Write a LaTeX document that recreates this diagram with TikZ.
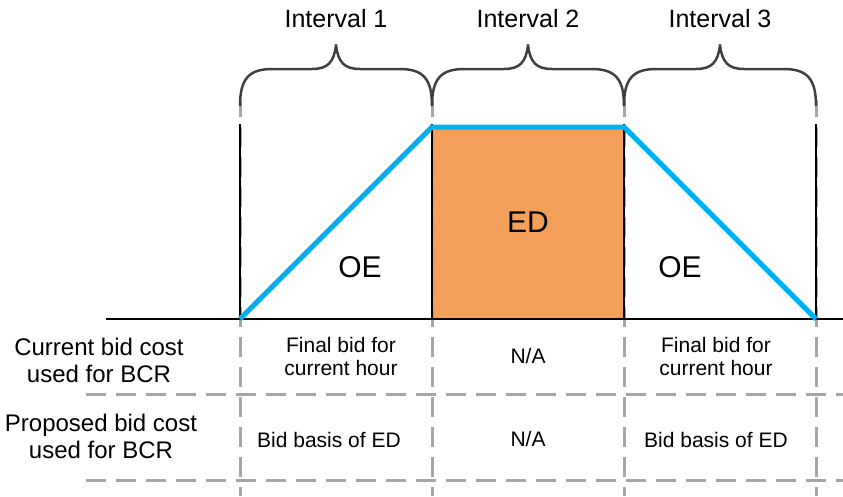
\documentclass[tikz,border=0pt]{standalone}
\usepackage{fontspec}
\setmainfont{Liberation Sans}
\definecolor{skyblue}{HTML}{00B0F0}
\definecolor{edorange}{HTML}{F49F5A}
\definecolor{bracegray}{HTML}{404040}
\definecolor{dashgray}{HTML}{A6A6A6}
\tikzset{
  bluepath/.style={draw=skyblue,line width=5pt,line join=miter},
  blackline/.style={draw=black,line width=2pt},
  gridline/.style={draw=dashgray,line width=3pt,dash pattern=on 20pt off 10pt},
  bracepath/.style={draw=bracegray,line width=2.5pt,line join=round},
  intlabel/.style={anchor=base,inner sep=0pt,font=\fontsize{25}{30}\selectfont},
  biglabel/.style={anchor=base,inner sep=0pt,font=\fontsize{30}{36}\selectfont},
  rowlabel/.style={anchor=base,inner sep=0pt,align=center,font=\fontsize{24}{27}\selectfont},
  celltext/.style={anchor=base,inner sep=0pt,align=center,font=\fontsize{21}{23}\selectfont}
}
\begin{document}
\begin{tikzpicture}[x=1pt,y=-1pt]
\useasboundingbox (0,0) rectangle (843,496);
% named points
\coordinate (b0) at (240,319);
\coordinate (b1) at (432,319);
\coordinate (b2) at (624,319);
\coordinate (b3) at (816,319);
\coordinate (t1) at (432,127);
\coordinate (t2) at (624,127);
\coordinate (axl) at (106,319);
\coordinate (axr) at (843,319);
% orange area
\fill[edorange] (t1) rectangle (b2);
% gray dashed verticals
\foreach \x [count=\i] in {240,432,624,816}{
  \coordinate (gt\i) at (\x,100);
  \coordinate (gb\i) at (\x,496);
  \draw[gridline,dash phase=3pt] (gt\i) -- (gb\i);
}
% horizontal dashed row lines
\coordinate (h1l) at (86,394); \coordinate (h1r) at (843,394);
\coordinate (h2l) at (86,480); \coordinate (h2r) at (843,480);
\draw[gridline] (h1l) -- (h1r);
\draw[gridline] (h2l) -- (h2r);
% black verticals
\foreach \x [count=\i] in {240,432,624,816}{
  \coordinate (vt\i) at (\x,124);
  \coordinate (vb\i) at (\x,319);
  \draw[blackline] (vt\i) -- (vb\i);
}
% axis
\draw[blackline] (axl) -- (axr);
% blue trapezoid
\draw[bluepath] (b0) -- (t1) -- (t2) -- (b3);
% braces
\foreach \a/\b in {240/432,432/624,624/816}{
  \pgfmathsetmacro{\c}{(\a+\b)/2}
  \draw[bracepath] (\a,106) .. controls (\a,80) and (\a+8,69) .. (\a+32,69)
    -- (\c-24,69) .. controls (\c-8,69) and (\c-2,62) .. (\c,45)
    .. controls (\c+2,62) and (\c+8,69) .. (\c+24,69)
    -- (\b-32,69) .. controls (\b-8,69) and (\b,80) .. (\b,106);
}
% labels
\node[intlabel] (i1) at (336,27) {Interval 1};
\node[intlabel] (i2) at (528,27) {Interval 2};
\node[intlabel] (i3) at (720,27) {Interval 3};
\node[biglabel] (ed) at (528,232) {ED};
\node[biglabel] (oe1) at (360,277) {OE};
\node[biglabel] (oe2) at (680,277) {OE};
% table (anchor=base is the last line's baseline)
\node[rowlabel] (r1) at (99,382) {Current bid cost\\used for BCR};
\node[rowlabel] (r2) at (101,458) {Proposed bid cost\\used for BCR};
\node[celltext] (c11) at (341,375) {Final bid for\\current hour};
\node[celltext] (c12) at (528,363) {N/A};
\node[celltext] (c13) at (716,375) {Final bid for\\current hour};
\node[celltext] (c21) at (329,447) {Bid basis of ED};
\node[celltext] (c22) at (528,446) {N/A};
\node[celltext] (c23) at (716,447) {Bid basis of ED};
\end{tikzpicture}
\end{document}
